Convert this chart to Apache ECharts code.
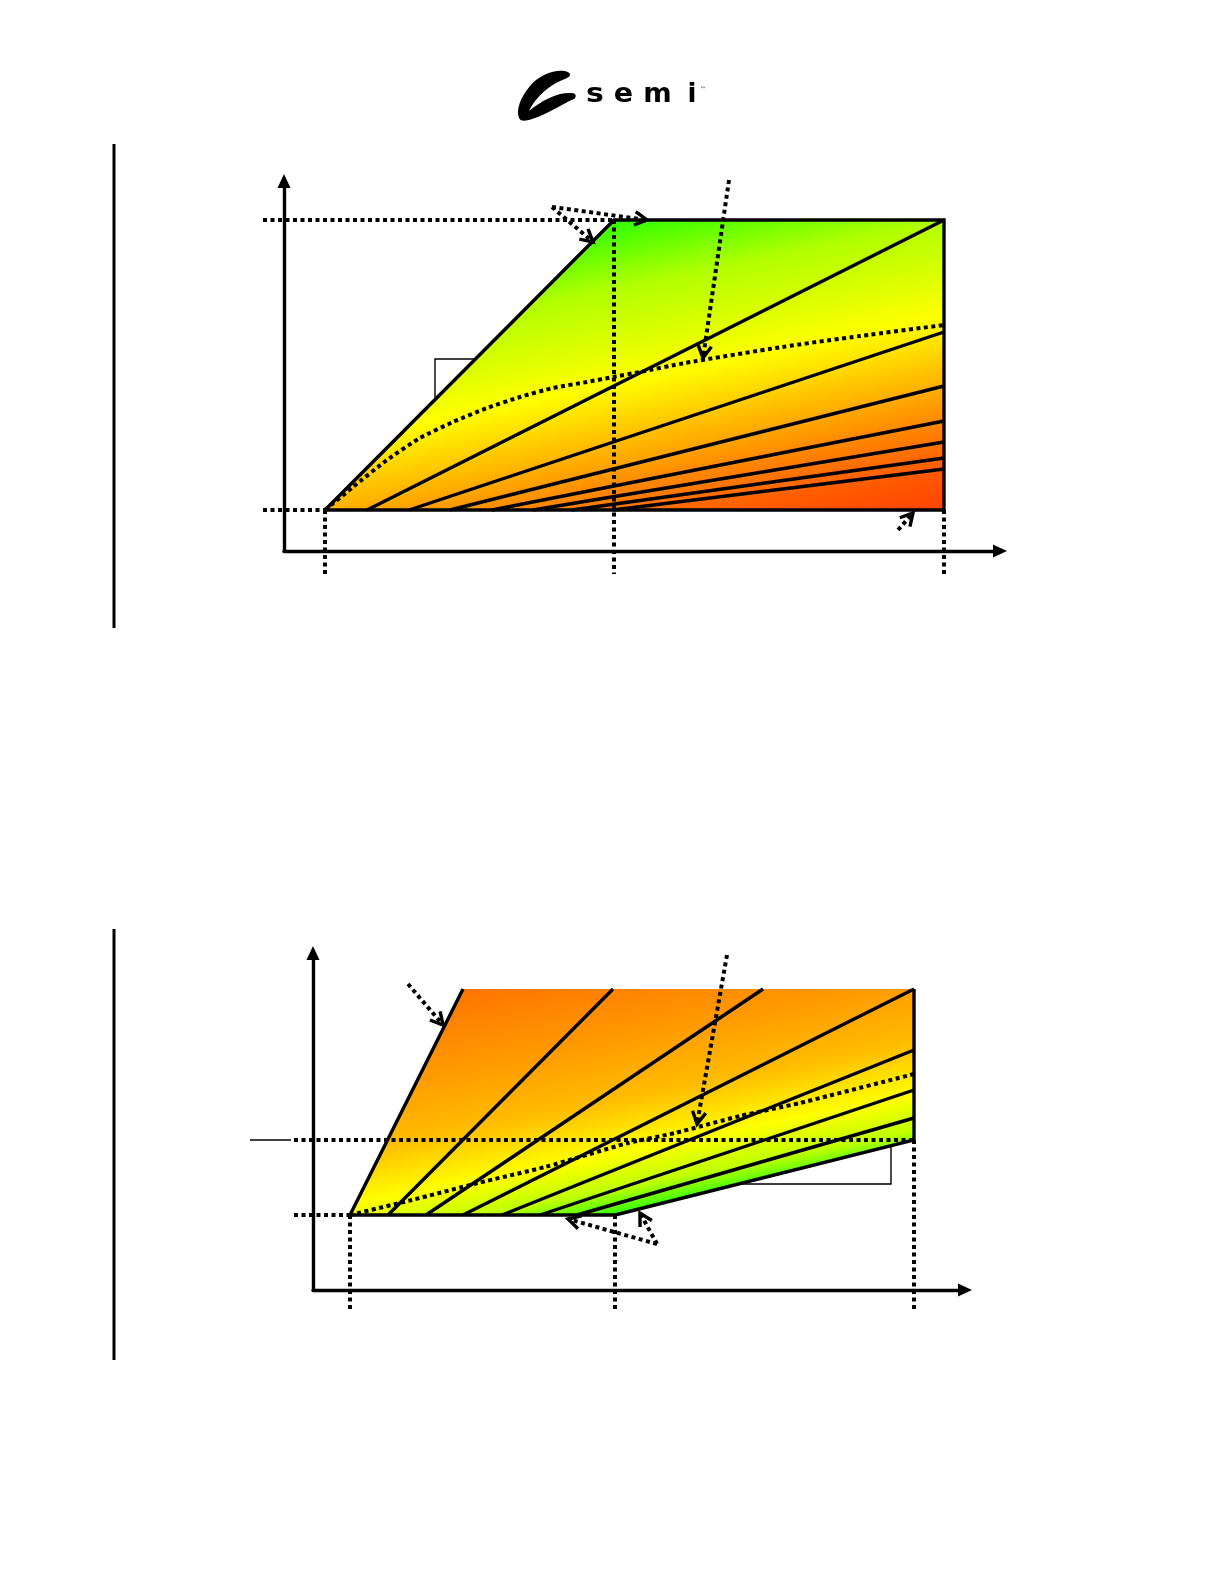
<!DOCTYPE html>
<html><head><meta charset="utf-8">
<script src="https://cdn.jsdelivr.net/npm/echarts@6/dist/echarts.min.js"></script>
<style>html,body{margin:0;padding:0;background:#fff}#c{width:1225px;height:1585px}</style>
</head><body><div id="c"></div>
<script>
// ===== Upper diagram (units: arbitrary, origin at the axes crossing) =====
const c1Region = [[4.1,4.1],[33.0,33.1],[66.0,33.1],[66.0,4.1]];
const c1FanStartX = [8.3,12.5,16.6,20.8,24.9,28.8,32.9];      // on lower edge (y = 4.1)
const c1FanEndY   = [33.1,21.9,16.5,13.0,10.9,9.3,8.2];        // on right edge (x = 66.0)
const c1Curve = [[4.1,4.1],[6.9,6.4],[10.3,9.1],[13.6,11.3],[16.9,12.9],[20.3,14.3],[23.6,15.4],[26.9,16.3],[30.3,16.9],[32.9,17.4],[35.6,17.9],[40.1,18.8],[49.8,20.4],[57.6,21.5],[66.0,22.6]];
const c1Dotted = [[-2.1,33.1,33.0,33.1],[-2.1,4.1,4.1,4.1],[4.1,4.1,4.1,-2.3],[33.0,33.1,33.0,-2.3],[66.0,4.1,66.0,-2.3]];
const c1Arrows = [[26.8,34.4,30.9,30.9],[26.8,34.4,36.3,33.1],[44.5,37.1,41.9,19.3],[61.4,2.1,62.9,3.8]];
const c1Bracket = [[19.0,19.2],[15.1,19.2],[15.1,15.2]];

// ===== Lower diagram =====
const c2Region = [[3.7,7.5],[15.0,30.1],[60.1,30.1],[60.1,15.0],[30.2,7.5]];
const c2FanStartX = [7.5,11.3,15.0,18.9,22.7,26.4];            // on lower edge (y = 7.5)
const c2FanEnd = [[30.0,30.1],[45.0,30.1],[60.1,30.1],[60.1,24.0],[60.1,20.0],[60.1,17.2]];
const c2Curve = [[3.7,7.5],[9.9,9.0],[16.5,10.7],[23.2,12.3],[31.5,14.7],[36.2,15.7],[42.7,17.4],[48.7,18.7],[60.1,21.6]];
const c2Dotted = [[-1.9,15.0,60.1,15.0],[-1.9,7.5,3.7,7.5],[3.7,7.5,3.7,-2.0],[30.2,7.5,30.2,-2.0],[60.1,15.0,60.1,-2.0]];
const c2Thin = [[-6.3,15.0,-2.2,15.0]];
const c2Arrows = [[9.5,30.6,13.0,26.5],[41.4,33.5,38.4,16.6],[34.4,4.6,25.5,7.1],[34.4,4.6,32.7,7.7]];
const c2Bracket = [[42.7,10.6],[57.8,10.6],[57.8,14.4]];

const chart = echarts.init(document.getElementById('c'), null, {renderer:'canvas'});
const DOT = {stroke:'#000', lineWidth:4, lineDash:[4,3.5], lineCap:'butt'};
const SOLID = {stroke:'#000', lineWidth:3.4, lineCap:'butt'};

function axis(gi, max) {
  return {type:'value', gridIndex:gi, min:0, max:max,
    axisLine:{show:true, onZero:false, symbol:['none','triangle'], symbolSize:[13,14], lineStyle:{color:'#000', width:3.4}},
    axisTick:{show:false}, axisLabel:{show:false}, splitLine:{show:false}};
}
function segSeries(gi, segs, style, z) {
  return {type:'custom', xAxisIndex:gi, yAxisIndex:gi, z:z, silent:true, clip:false, data:segs,
    renderItem:function(p, api){
      const a = api.coord([api.value(0), api.value(1)]);
      const b = api.coord([api.value(2), api.value(3)]);
      return {type:'line', shape:{x1:a[0],y1:a[1],x2:b[0],y2:b[1]}, style:Object.assign({}, style)};
    }};
}
function arrowSeries(gi, arrows) {
  return {type:'custom', xAxisIndex:gi, yAxisIndex:gi, z:7, silent:true, clip:false, data:arrows,
    renderItem:function(p, api){
      const a = api.coord([api.value(0), api.value(1)]);
      const b = api.coord([api.value(2), api.value(3)]);
      const ang = Math.atan2(b[1]-a[1], b[0]-a[0]);
      const L = 14, w = 0.5;
      const w1 = [b[0]-L*Math.cos(ang-w), b[1]-L*Math.sin(ang-w)];
      const w2 = [b[0]-L*Math.cos(ang+w), b[1]-L*Math.sin(ang+w)];
      return {type:'group', children:[
        {type:'line', shape:{x1:a[0],y1:a[1],x2:b[0],y2:b[1]}, style:Object.assign({}, DOT)},
        {type:'polyline', shape:{points:[w1,b,w2]}, style:{stroke:'#000', lineWidth:3.4, fill:null, lineJoin:'miter'}}
      ]};
    }};
}
function polySeries(gi, pts, style, z, smooth) {
  return {type:'line', xAxisIndex:gi, yAxisIndex:gi, data:pts, symbol:'none', showSymbol:false, clip:false, silent:true, z:z,
    smooth:smooth || false,
    lineStyle:Object.assign({color:'#000', width:3.4, join:'miter'}, style)};
}
function regionSeries(gi, region, g0, g1, stops) {
  return {type:'custom', xAxisIndex:gi, yAxisIndex:gi, z:2, silent:true, clip:false, data:[region.flat()],
    renderItem:function(p, api){
      const pts = region.map(function(_, i){ return api.coord([api.value(2*i), api.value(2*i+1)]); });
      const s = api.coord(g0), e = api.coord(g1);
      return {type:'polygon', shape:{points:pts},
        style:{fill:{type:'linear', x:s[0], y:s[1], x2:e[0], y2:e[1], colorStops:stops, global:true}, stroke:null}};
    }};
}

const c1Fans = c1FanStartX.map(function(x, i){ return [x, c1Region[0][1], c1Region[2][0], c1FanEndY[i]]; });
const c2Fans = c2FanStartX.map(function(x, i){ return [x, c2Region[0][1], c2FanEnd[i][0], c2FanEnd[i][1]]; });

const stops1 = [{offset:0,color:'#22ff00'},{offset:0.2,color:'#b0ff00'},{offset:0.46,color:'#ffff00'},{offset:0.6,color:'#ffc400'},{offset:0.74,color:'#ff8a00'},{offset:0.87,color:'#ff5c00'},{offset:1,color:'#ff4000'}];
const stops2 = [{offset:0,color:'#ff7400'},{offset:0.3,color:'#ff9800'},{offset:0.55,color:'#ffbc00'},{offset:0.76,color:'#ffff00'},{offset:0.9,color:'#c0ff00'},{offset:1,color:'#30ff00'}];

const logoSeries = {type:'custom', coordinateSystem:'none', silent:true, data:[0], z:10,
  renderItem:function(){
    return {type:'path', shape:{pathData:'M568 72 C558 68 540 74 530 86 C520 98 516 110 519 118 C521 122 526 121 532 119 C548 114 562 104 574 99 C577 97 576 93 572 93 C558 92 542 100 529 111 C534 100 544 90 556 83 C563 79 571 78 570 74 Z'},
      style:{fill:'#000'}};
  }};

const LOGO_FONT = 'bold 26px "DejaVu Sans"';
const option = {
  animation:false,
  backgroundColor:'#fff',
  grid:[
    {left:284, top:181, width:716, height:370},
    {left:313, top:953, width:652, height:337}
  ],
  xAxis:[axis(0, 71.6), axis(1, 65.2)],
  yAxis:[axis(0, 37.0), axis(1, 33.7)],
  graphic:[
    {type:'rect', shape:{x:112.5, y:144, width:3, height:484}, style:{fill:'#000'}},
    {type:'rect', shape:{x:112.5, y:929, width:3, height:431}, style:{fill:'#000'}},
    {type:'text', x:595, y:95, scaleX:1.15, style:{text:'s', font:LOGO_FONT, fill:'#000', align:'center', verticalAlign:'middle'}},
    {type:'text', x:623.5, y:95, scaleX:1.1, style:{text:'e', font:LOGO_FONT, fill:'#000', align:'center', verticalAlign:'middle'}},
    {type:'text', x:657.5, y:95, scaleX:1.05, style:{text:'m', font:LOGO_FONT, fill:'#000', align:'center', verticalAlign:'middle'}},
    {type:'text', x:692, y:95, style:{text:'i', font:LOGO_FONT, fill:'#000', align:'center', verticalAlign:'middle'}},
    {type:'text', x:703, y:89, style:{text:'™', font:'6px "DejaVu Sans"', fill:'#000', align:'center', verticalAlign:'middle'}}
  ],
  series:[
    logoSeries,
    polySeries(0, c1Bracket, {width:1.4}, 1),
    regionSeries(0, c1Region, [29.7,33.0], [36.9,-2.3], stops1),
    segSeries(0, c1Fans, SOLID, 3),
    polySeries(0, c1Region.concat([c1Region[0]]), {}, 4),
    polySeries(0, c1Curve, {width:4, type:[4,3.5]}, 5, 0.2),
    segSeries(0, c1Dotted, DOT, 6),
    arrowSeries(0, c1Arrows),

    polySeries(1, c2Bracket, {width:1.4}, 1),
    regionSeries(1, c2Region, [9.3,29.1], [14.1,4.4], stops2),
    segSeries(1, c2Fans, SOLID, 3),
    polySeries(1, [c2Region[4], c2Region[0], c2Region[1]], {}, 4),
    polySeries(1, [c2Region[2], c2Region[3], c2Region[4]], {}, 4),
    polySeries(1, c2Curve, {width:4, type:[4,3.5]}, 5, 0.2),
    segSeries(1, c2Dotted, DOT, 6),
    segSeries(1, c2Thin, {stroke:'#000', lineWidth:1.4}, 6),
    arrowSeries(1, c2Arrows)
  ]
};
chart.setOption(option);
</script></body></html>
